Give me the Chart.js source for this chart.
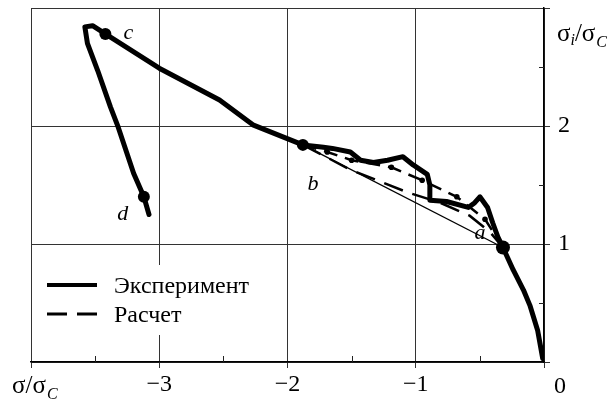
<!DOCTYPE html>
<html>
<head>
<meta charset="utf-8">
<script src="https://cdn.jsdelivr.net/npm/chart.js@4.4.1/dist/chart.umd.min.js"></script>
<style>
  html, body { margin: 0; padding: 0; background: #fff; }
  canvas { display: block; }
</style>
</head>
<body>
<canvas id="stressChart" width="610" height="403"></canvas>
<script>
// подписи осей
const xTickValues = [-3, -2, -1, 0];
const xTickLabels = ['−3', '−2', '−1', '0'];
const yTickValues = [1, 2];
const yTickLabels = ['1', '2'];

// эксперимент: 0 -> a -> b -> c -> d
const expX = [-0.01, -0.05, -0.11, -0.16, -0.24, -0.32, -0.36, -0.40, -0.44, -0.50, -0.54, -0.59,
    -0.76, -0.89, -0.89, -0.91, -1.02, -1.10, -1.22, -1.33, -1.43, -1.51, -1.65, -1.72, -1.88,
    -2.27, -2.53, -3.00, -3.42, -3.52, -3.58, -3.56, -3.48, -3.38, -3.32, -3.20, -3.12, -3.08];
const expY = [0.03, 0.27, 0.48, 0.61, 0.78, 0.97, 1.06, 1.18, 1.31, 1.40, 1.35, 1.31,
    1.36, 1.37, 1.50, 1.59, 1.67, 1.74, 1.71, 1.69, 1.71, 1.78, 1.81, 1.82, 1.84,
    2.01, 2.22, 2.49, 2.78, 2.85, 2.84, 2.70, 2.47, 2.16, 1.99, 1.60, 1.40, 1.25];

// расчет (штриховая)
const calcX = [-1.88, -1.51, -1.07, -0.81, -0.58, -0.42, -0.32];
const calcY = [1.84, 1.63, 1.44, 1.35, 1.24, 1.10, 0.97];

// тонкая прямая b - a
const chordX = [-1.88, -0.32];
const chordY = [1.84, 0.97];

// штрихпунктир с точками
const dotX = [-1.88, -1.69, -1.50, -1.19, -0.95, -0.68, -0.46, -0.32];
const dotY = [1.84, 1.78, 1.71, 1.65, 1.54, 1.40, 1.21, 0.97];

// характерные точки
const markNames = ['a', 'b', 'c', 'd'];
const markX = [-0.32, -1.88, -3.42, -3.12];
const markY = [0.97, 1.84, 2.78, 1.40];

const serif = "'Liberation Serif', 'Times New Roman', 'DejaVu Serif', 'Noto Serif', serif";
const nameShift = { a: [-23, -16], b: [10, 38], c: [23, -2], d: [-21, 16] };

const toPts = (xs, ys) => xs.map((x, i) => ({ x: x, y: ys[i] }));

// минорные засечки внутрь, легенда, подписи
const extrasPlugin = {
    id: 'extras',
    beforeDatasetsDraw(chart) {
        const ctx = chart.ctx;
        const ca = chart.chartArea;
        const xs = chart.scales.x, ys = chart.scales.y;
        ctx.save();
        ctx.strokeStyle = '#222';
        ctx.lineWidth = 1;
        xs.ticks.filter(t => !Number.isInteger(t.value)).forEach(t => {
            const px = Math.round(xs.getPixelForValue(t.value)) + 0.5;
            ctx.beginPath(); ctx.moveTo(px, ca.bottom); ctx.lineTo(px, ca.bottom - 6); ctx.stroke();
        });
        ys.ticks.filter(t => !Number.isInteger(t.value)).forEach(t => {
            const py = Math.round(ys.getPixelForValue(t.value)) + 0.5;
            ctx.beginPath(); ctx.moveTo(ca.right, py); ctx.lineTo(ca.right - 5, py); ctx.stroke();
        });

        // легенда
        const lx = ca.left + 16, ly = ca.bottom - 77;
        ctx.fillStyle = '#fff';
        ctx.fillRect(ca.left + 8, ly - 20, 215, 70);
        const items = chart.data.datasets.filter(d => d.label);
        items.forEach((d, i) => {
            const y = ly + i * 29;
            ctx.strokeStyle = '#000';
            ctx.lineWidth = d.legendWidth;
            ctx.setLineDash(d.borderDash || []);
            ctx.beginPath(); ctx.moveTo(lx, y); ctx.lineTo(lx + 50, y); ctx.stroke();
            ctx.setLineDash([]);
            ctx.fillStyle = '#000';
            ctx.font = '24px ' + serif;
            ctx.textBaseline = 'middle';
            ctx.textAlign = 'left';
            ctx.fillText(d.label, lx + 67, y + 2);
        });
        ctx.restore();
    },
    afterDraw(chart) {
        const ctx = chart.ctx;
        const ca = chart.chartArea;
        const xs = chart.scales.x, ys = chart.scales.y;
        ctx.save();
        ctx.fillStyle = '#000';
        ctx.textBaseline = 'alphabetic';

        // буквы у точек
        ctx.font = 'italic 22px ' + serif;
        ctx.textAlign = 'center';
        markNames.forEach((n, i) => {
            const px = xs.getPixelForValue(markX[i]) + nameShift[n][0];
            const py = ys.getPixelForValue(markY[i]) + nameShift[n][1];
            ctx.fillText(n, px, py + 7);
        });

        // "0" сдвинут вправо, как в оригинале
        ctx.font = '24px ' + serif;
        ctx.fillText(xTickLabels[xTickLabels.length - 1], xs.getPixelForValue(0) + 16, ca.bottom + 31);

        // σ/σC внизу слева
        ctx.textAlign = 'left';
        let x = 12, base = 393;
        ctx.font = '25px ' + serif;
        ctx.fillText('σ/σ', x, base);
        x += ctx.measureText('σ/σ').width;
        ctx.font = 'italic 16px ' + serif;
        ctx.fillText('C', x + 1, base + 6);

        // σi/σC справа вверху
        x = ca.right + 13; base = 41;
        ctx.font = '25px ' + serif;
        ctx.fillText('σ', x, base);
        x += ctx.measureText('σ').width;
        ctx.font = 'italic 16px ' + serif;
        ctx.fillText('i', x, base + 4);
        x += ctx.measureText('i').width;
        ctx.font = '25px ' + serif;
        ctx.fillText('/σ', x, base);
        x += ctx.measureText('/σ').width;
        ctx.font = 'italic 16px ' + serif;
        ctx.fillText('C', x + 1, base + 6);
        ctx.restore();
    }
};

const gridColor = c => Number.isInteger(c.tick.value) ? '#333' : 'rgba(0,0,0,0)';

const chart = new Chart(document.getElementById('stressChart'), {
    type: 'scatter',
    data: {
        datasets: [
            {
                data: toPts(markX, markY),
                showLine: false,
                pointRadius: [7, 6, 6, 6],
                pointBackgroundColor: '#000',
                pointBorderWidth: 0
            },
            {
                label: 'Эксперимент',
                data: toPts(expX, expY),
                showLine: true,
                borderColor: '#000',
                borderWidth: 5,
                legendWidth: 4,
                pointRadius: 0,
                borderJoinStyle: 'round',
                borderCapStyle: 'round'
            },
            {
                label: 'Расчет',
                data: toPts(calcX, calcY),
                showLine: true,
                borderColor: '#000',
                borderWidth: 2.5,
                legendWidth: 3,
                borderDash: [20, 10],
                pointRadius: 0
            },
            {
                data: toPts(dotX, dotY),
                showLine: true,
                borderColor: '#000',
                borderWidth: 2.5,
                borderDash: [14, 8],
                pointRadius: [0, 2.8, 2.8, 2.8, 2.8, 2.8, 2.8, 0],
                pointBackgroundColor: '#000',
                pointBorderWidth: 0
            },
            {
                data: toPts(chordX, chordY),
                showLine: true,
                borderColor: '#000',
                borderWidth: 1.3,
                pointRadius: 0
            }
        ]
    },
    options: {
        responsive: false,
        animation: false,
        events: [],
        layout: { padding: { left: 31, top: 8, right: 0, bottom: 0 } },
        plugins: { legend: { display: false }, tooltip: { enabled: false } },
        scales: {
            x: {
                type: 'linear',
                min: -4, max: 0,
                afterFit: s => { s.height = 41; s.paddingLeft = 0; s.paddingRight = 0; },
                ticks: {
                    stepSize: 0.5,
                    autoSkip: false,
                    maxRotation: 0,
                    padding: 2,
                    color: '#000',
                    font: { family: serif, size: 24 },
                    callback: v => {
                        const i = xTickValues.indexOf(v);
                        return (i >= 0 && v !== 0) ? xTickLabels[i] : '';
                    }
                },
                grid: { color: gridColor, tickColor: gridColor, tickLength: 6, lineWidth: 1 },
                border: { color: '#000', width: 1.5 }
            },
            y: {
                type: 'linear',
                position: 'right',
                min: 0, max: 3,
                afterFit: s => { s.width = 66; s.paddingTop = 0; s.paddingBottom = 0; },
                ticks: {
                    stepSize: 0.5,
                    autoSkip: false,
                    padding: 8,
                    color: '#000',
                    font: { family: serif, size: 24 },
                    callback: v => {
                        const i = yTickValues.indexOf(v);
                        return i >= 0 ? yTickLabels[i] : '';
                    }
                },
                grid: { color: gridColor, tickColor: gridColor, tickLength: 6, lineWidth: 1 },
                border: { color: '#000', width: 1.5 }
            }
        }
    },
    plugins: [extrasPlugin]
});

// перерисовать, когда шрифты готовы
if (document.fonts) document.fonts.ready.then(() => chart.update());
</script>
</body>
</html>
